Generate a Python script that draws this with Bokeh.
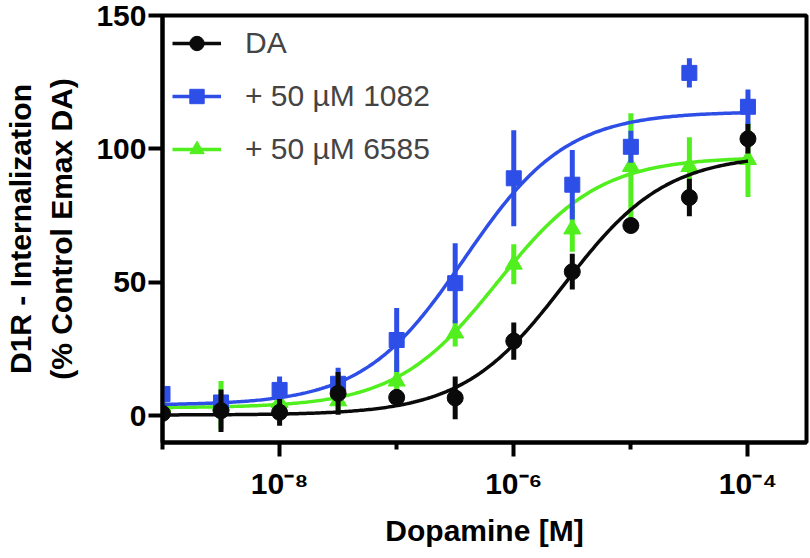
import numpy as np
from bokeh.plotting import figure
from bokeh.models import Range1d, FixedTicker, Legend, LegendItem, CustomJSTickFormatter
from bokeh.embed import file_html
from bokeh.resources import INLINE

# ---------------- data ----------------
conc = [1e-9, 3.16e-9, 1e-8, 3.16e-8, 1e-7, 3.16e-7, 1e-6, 3.16e-6, 1e-5, 3.16e-5, 1e-4]

da_mean = [0.9, 1.9, 1.3, 8.4, 6.9, 6.7, 28.0, 54.0, 71.3, 81.8, 103.8]
da_err = [2.0, 8.0, 5.0, 8.0, 3.0, 8.0, 7.0, 6.7, 2.0, 7.0, 5.5]

c1082_mean = [8.2, 5.0, 9.7, 12.0, 28.4, 49.7, 89.0, 86.6, 100.8, 128.5, 115.8]
c1082_err = [3.0, 3.0, 5.0, 6.0, 12.0, 15.0, 18.0, 13.0, 6.0, 5.5, 6.5]

c6585_mean = [3.5, 4.0, 5.0, 5.6, 13.0, 31.0, 56.8, 70.0, 93.4, 93.4, 96.0]
c6585_err = [2.0, 9.0, 3.0, 4.0, 8.0, 5.0, 7.5, 8.5, 20.0, 11.0, 14.0]

# four-parameter logistic fits: bottom, top, logEC50, hill slope
da_fit = [0.3, 98.0, -5.57, 1.0]
c1082_fit = [4.0, 114.0, -6.42, 1.0]
c6585_fit = [3.0, 97.0, -6.14, 1.0]

series_labels = ["DA", "+ 50 \u00b5M 1082", "+ 50 \u00b5M 6585"]

xtick_values = [1e-8, 1e-6, 1e-4]
xtick_labels = ["10\u207b\u2078", "10\u207b\u2076", "10\u207b\u2074"]
xminor_values = [1e-9, 1e-7, 1e-5]
ytick_values = [0, 50, 100, 150]

x_label = "Dopamine [M]"
y_label = "D1R - Internalization\n(% Control Emax DA)"

# ---------------- styling ----------------
BLACK = "#0a0a0a"
BLUE = "#2e4ee8"
GREEN = "#50ef1d"
FONT = "Liberation Sans"

W, H = 810, 558
BL, BR, BT, BB = 162, 4, 15, 116
FRAME_H = H - BT - BB
Y0, Y1 = -10, 150
X0, X1 = 1e-9, 10 ** -3.5

p = figure(width=W, height=H, x_axis_type="log",
           x_range=Range1d(X0, X1), y_range=Range1d(Y0, Y1),
           output_backend="svg", toolbar_location=None,
           min_border_left=BL, min_border_right=BR,
           min_border_top=BT, min_border_bottom=BB)

p.xgrid.visible = False
p.ygrid.visible = False
p.outline_line_color = "black"
p.outline_line_width = 4
p.background_fill_color = "white"
p.border_fill_color = "white"


def curve(fit):
    b, t, logec, h = fit
    xs = np.logspace(np.log10(conc[0]), np.log10(conc[-1]), 300)
    ys = b + (t - b) / (1 + 10 ** ((logec - np.log10(xs)) * h))
    return xs, ys


def draw(mean, err, fit, color, marker, size):
    xs, ys = curve(fit)
    ln = p.line(xs, ys, line_color=color, line_width=3.5)
    lo = [m - e for m, e in zip(mean, err)]
    hi = [m + e for m, e in zip(mean, err)]
    p.segment(x0=conc, y0=lo, x1=conc, y1=hi, line_color=color, line_width=5)
    pts = p.scatter(conc, mean, marker=marker, size=size,
                    fill_color=color, line_color=color, line_width=1)
    return ln, pts


g_ln, g_pts = draw(c6585_mean, c6585_err, c6585_fit, GREEN, "triangle", 17)
b_ln, b_pts = draw(c1082_mean, c1082_err, c1082_fit, BLUE, "square", 15)
k_ln, k_pts = draw(da_mean, da_err, da_fit, BLACK, "circle", 16)

GLYPH_H, SPACING = 36, 17
LEG_H = 3 * GLYPH_H + 2 * SPACING
legend = Legend(items=[
    LegendItem(label=series_labels[0], renderers=[k_ln, k_pts]),
    LegendItem(label=series_labels[1], renderers=[b_ln, b_pts]),
    LegendItem(label=series_labels[2], renderers=[g_ln, g_pts]),
], location=(10, FRAME_H - LEG_H - 10), margin=0, padding=0, spacing=SPACING,
    glyph_width=49, glyph_height=GLYPH_H, label_standoff=24,
    label_height=GLYPH_H,
    label_text_font=FONT, label_text_font_size="30px",
    border_line_alpha=0, background_fill_alpha=0)
p.add_layout(legend)

# axes
for ax in (p.xaxis[0], p.yaxis[0]):
    ax.axis_line_width = 4
    ax.major_tick_line_width = 4
    ax.minor_tick_line_width = 4
    ax.major_tick_in = 0
    ax.minor_tick_in = 0
    ax.major_tick_out = 14
    ax.minor_tick_out = 7
    ax.major_label_text_font = FONT
    ax.major_label_text_font_style = "bold"
    ax.major_label_text_font_size = "30px"
    ax.major_label_text_color = "black"
    ax.axis_label_text_font = FONT
    ax.axis_label_text_font_style = "bold"
    ax.axis_label_text_font_size = "30px"
    ax.axis_label_text_color = "black"

p.xaxis.ticker = FixedTicker(ticks=xtick_values, minor_ticks=xminor_values)
p.xaxis.formatter = CustomJSTickFormatter(
    args=dict(vals=xtick_values, labels=xtick_labels),
    code="""
    for (let i = 0; i < vals.length; i++) {
        if (Math.abs(Math.log10(vals[i]) - Math.log10(tick)) < 1e-6) return labels[i];
    }
    return "";
""")
p.xaxis.major_label_standoff = 10
p.xaxis.axis_label = x_label
p.xaxis.axis_label_standoff = 11

p.yaxis.ticker = FixedTicker(ticks=ytick_values, minor_ticks=[])
p.yaxis.major_label_standoff = 2
p.yaxis.axis_label = y_label
p.yaxis.axis_label_standoff = 15
p.yaxis.axis_label_text_line_height = 1.27

open("out.html", "w").write(file_html(p, INLINE))
